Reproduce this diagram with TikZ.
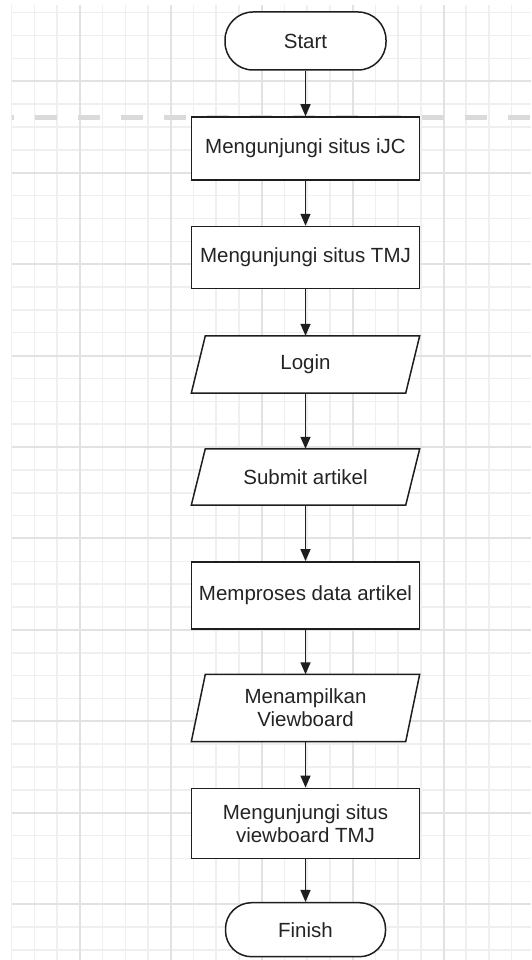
\documentclass[tikz,border=0pt]{standalone}
\usepackage{fontspec}
\setmainfont{Liberation Sans}
\usetikzlibrary{arrows.meta,calc}
\definecolor{gminor}{HTML}{EFEFEF}
\definecolor{gmajor}{HTML}{E2E2E2}
\definecolor{dashc}{HTML}{DADADA}
\definecolor{ink}{HTML}{1E1E1E}
\definecolor{txt}{HTML}{242424}
\pgfdeclarelayer{bg}
\pgfdeclarelayer{mid}
\pgfsetlayers{bg,mid,main}
\tikzset{
  lbl/.style={text=txt, font=\fontsize{20.5}{23}\selectfont, align=center, inner sep=0pt},
  box/.style={lbl, draw=ink, line width=1.5pt, fill=white, minimum width=228pt, minimum height=63pt},
  term/.style={box, rounded corners=28pt, minimum width=161pt, minimum height=58pt},
  io/.style={lbl, minimum width=214pt},
  iofill/.style={draw=ink, line width=1.5pt, fill=white, line join=miter},
  conn/.style={draw=ink, line width=1.5pt, -{Triangle[length=12pt,width=10pt]}}
}
\begin{document}
\begin{tikzpicture}[x=1pt,y=-1pt]
\useasboundingbox (0,0) rectangle (531,960);
\begin{pgfonlayer}{bg}
\fill[white] (0,0) rectangle (531,960);
\foreach \k in {0,...,22}{
  \pgfmathsetmacro\xx{11.7+22.727*\k}
  \draw[gminor,line width=1.5pt] (\xx,5) -- (\xx,960);
}
\foreach \k in {0,...,41}{
  \pgfmathsetmacro\yy{12.7+22.86*\k}
  \draw[gminor,line width=1.5pt] (11.7,\yy) -- (531,\yy);
}
\foreach \k in {3,7,...,19}{
  \pgfmathsetmacro\xx{11.7+22.727*\k}
  \draw[gmajor,line width=2pt] (\xx,5) -- (\xx,960);
}
\foreach \k in {3,7,...,39}{
  \pgfmathsetmacro\yy{12.7+22.86*\k}
  \draw[gmajor,line width=2pt] (11.7,\yy) -- (531,\yy);
}
\draw[dashc, line width=5pt, dash pattern=on 21.5pt off 21.5pt, dash phase=19.7pt] (11.7,117.3) -- (531,117.3);
\end{pgfonlayer}

\node[term] (start) at (305.5,41) {Start};
\node[box, minimum height=63pt] (b1) at (305.5,148.5) {Mengunjungi situs iJC};
\node[box, minimum height=62pt] (b2) at (305.5,257.5) {Mengunjungi situs TMJ};
\node[io, minimum height=57pt] (login) at (305.5,364.5) {Login};
\node[io, minimum height=56pt] (submit) at (305.5,477) {Submit artikel};
\node[box, minimum height=67pt] (proc) at (305.5,595.3) {Memproses data artikel};
\node[io, minimum height=67pt] (tampil) at (305.5,708) {Menampilkan\\Viewboard};
\node[box, minimum height=70pt] (b3) at (305.5,823.3) {Mengunjungi situs\\viewboard TMJ};
\node[term, minimum width=160pt, minimum height=54pt, rounded corners=26pt] (finish) at (305.5,929.7) {Finish};

\begin{pgfonlayer}{mid}
\foreach \n in {login,submit,tampil}{
  \draw[iofill] ($(\n.north west)+(7,0)$) -- ($(\n.north east)+(7,0)$) -- ($(\n.south east)+(-7,0)$) -- ($(\n.south west)+(-7,0)$) -- cycle;
}
\end{pgfonlayer}

\draw[conn] (start) -- (b1);
\draw[conn] (b1) -- (b2);
\draw[conn] (b2) -- (login);
\draw[conn] (login) -- (submit);
\draw[conn] (submit) -- (proc);
\draw[conn] (proc) -- (tampil);
\draw[conn] (tampil) -- (b3);
\draw[conn] (b3) -- (finish);
\end{tikzpicture}
\end{document}
